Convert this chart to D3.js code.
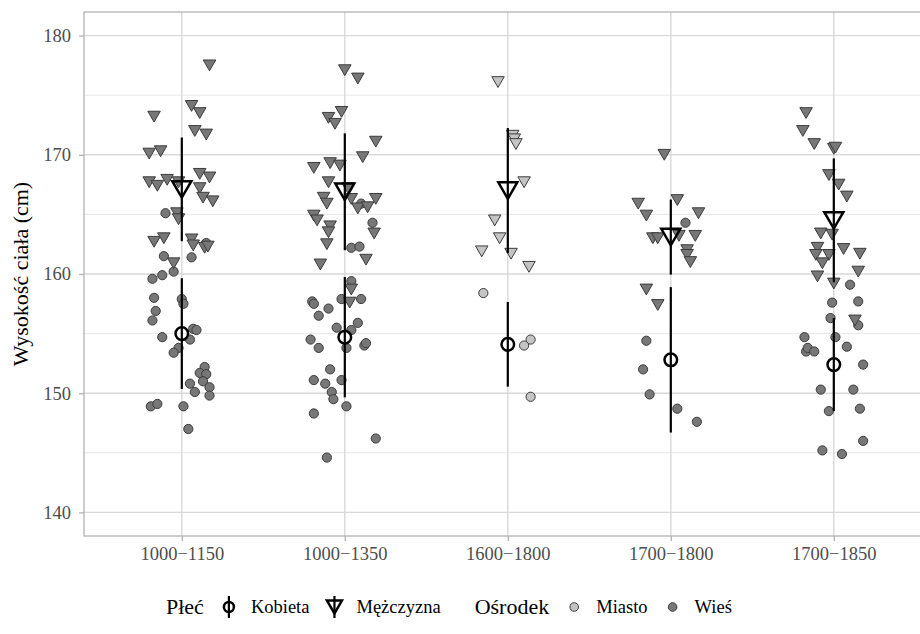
<!DOCTYPE html>
<html>
<head>
<meta charset="utf-8">
<script src="https://cdn.jsdelivr.net/npm/d3@7"></script>
<style>
  body { margin: 0; background: #fff; }
  svg { display: block; }
</style>
</head>
<body>
<svg id="chart" width="920" height="634" font-family="Liberation Serif, Times New Roman, serif"></svg>
<script>
"use strict";

const serif = "'Liberation Serif', 'Times New Roman', serif";

// okresy (categories on x)
const periods = ["1000\u22121150", "1000\u22121350", "1600\u22121800", "1700\u22121800", "1700\u22121850"];
const originByPeriod = ["Wieś", "Wieś", "Miasto", "Wieś", "Wieś"];
const yTicks = [140, 150, 160, 170, 180];

// mean +/- sd per period
const meanMen = [167.1, 166.9, 167.0, 163.1, 164.5];
const sdMen = [4.35, 4.9, 5.25, 3.15, 5.2];
const meanWomen = [155.0, 154.7, 154.1, 152.8, 152.4];
const sdWomen = [4.65, 5.05, 3.55, 6.1, 3.9];

// individual points: [period index, jitter (in category steps), height]
const men = [
  [0, 0.17, 177.5], [0, -0.17, 173.2], [0, 0.06, 174.1], [0, 0.11, 173.5], [0, 0.08, 172.0],
  [0, 0.15, 171.7], [0, -0.20, 170.1], [0, -0.13, 170.3], [0, -0.20, 167.7], [0, -0.15, 167.4],
  [0, -0.09, 167.9], [0, -0.02, 167.7], [0, 0.11, 168.4], [0, 0.17, 168.1], [0, 0.11, 167.2],
  [0, 0.13, 166.4], [0, 0.19, 166.1], [0, -0.03, 165.1], [0, -0.02, 164.6], [0, -0.17, 162.7],
  [0, -0.11, 163.0], [0, 0.06, 162.9], [0, 0.07, 162.4], [0, 0.14, 162.2], [0, 0.16, 162.3],
  [0, -0.05, 160.9],
  [1, 0.00, 177.1], [1, 0.08, 176.4], [1, -0.02, 173.6], [1, -0.10, 173.1], [1, -0.06, 172.6],
  [1, 0.19, 171.1], [1, 0.11, 169.8], [1, -0.19, 168.9], [1, -0.09, 169.3], [1, -0.03, 169.1],
  [1, -0.10, 167.7], [1, 0.02, 167.2], [1, -0.13, 166.4], [1, -0.11, 165.9], [1, 0.04, 166.3],
  [1, 0.08, 165.5], [1, 0.14, 165.6], [1, 0.19, 166.3], [1, -0.19, 164.9], [1, -0.17, 164.5],
  [1, -0.09, 164.0], [1, -0.10, 163.5], [1, 0.18, 163.4], [1, -0.11, 162.5], [1, -0.15, 160.8],
  [1, 0.13, 161.2], [1, 0.04, 158.7], [1, 0.03, 157.6],
  [2, -0.06, 176.1], [2, 0.03, 171.6], [2, 0.04, 171.3], [2, 0.05, 170.9], [2, 0.10, 167.7],
  [2, -0.08, 164.5], [2, -0.05, 163.0], [2, -0.16, 161.9], [2, 0.02, 161.7], [2, 0.13, 160.6],
  [3, -0.04, 170.0], [3, -0.20, 165.9], [3, -0.15, 164.9], [3, 0.04, 166.2], [3, 0.17, 165.1],
  [3, -0.11, 163.0], [3, -0.08, 163.0], [3, 0.05, 163.2], [3, 0.15, 163.2], [3, 0.10, 162.0],
  [3, 0.10, 161.6], [3, 0.12, 161.0], [3, -0.15, 158.7], [3, -0.08, 157.4],
  [4, -0.17, 173.5], [4, -0.19, 172.0], [4, -0.12, 170.9], [4, 0.00, 170.5], [4, 0.01, 170.6],
  [4, -0.03, 168.3], [4, 0.03, 167.5], [4, 0.08, 166.5], [4, -0.08, 163.4], [4, -0.01, 163.3],
  [4, -0.10, 162.2], [4, 0.06, 162.1], [4, 0.16, 161.7], [4, -0.11, 161.6], [4, -0.03, 161.6],
  [4, -0.07, 160.9], [4, 0.15, 160.2], [4, -0.10, 159.8], [4, 0.00, 159.2], [4, 0.13, 156.1]
];

const women = [
  [0, -0.10, 165.1], [0, 0.15, 162.6], [0, -0.11, 161.5], [0, 0.06, 161.4], [0, -0.05, 160.2],
  [0, -0.18, 159.6], [0, -0.12, 159.9], [0, -0.17, 158.0], [0, 0.00, 157.9], [0, 0.01, 157.5],
  [0, -0.16, 156.9], [0, -0.18, 156.1], [0, -0.12, 154.7], [0, 0.07, 155.4], [0, 0.09, 155.3],
  [0, 0.05, 154.5], [0, -0.02, 153.8], [0, -0.05, 153.4], [0, 0.14, 152.2], [0, 0.11, 151.7],
  [0, 0.15, 151.6], [0, 0.13, 151.0], [0, 0.05, 150.8], [0, 0.17, 150.5], [0, 0.08, 150.1],
  [0, 0.17, 149.8], [0, -0.19, 148.9], [0, -0.15, 149.1], [0, 0.01, 148.9], [0, 0.04, 147.0],
  [1, 0.10, 165.9], [1, 0.17, 164.3], [1, 0.04, 162.2], [1, 0.09, 162.3], [1, 0.04, 159.4],
  [1, -0.20, 157.7], [1, -0.19, 157.5], [1, -0.10, 157.1], [1, -0.02, 157.9], [1, 0.10, 157.9],
  [1, -0.16, 156.5], [1, 0.08, 155.9], [1, -0.05, 155.5], [1, 0.04, 155.3], [1, -0.21, 154.5],
  [1, -0.16, 153.8], [1, 0.01, 153.8], [1, 0.12, 154.0], [1, 0.13, 154.2], [1, -0.09, 152.0],
  [1, -0.19, 151.1], [1, -0.12, 150.8], [1, -0.02, 151.1], [1, -0.08, 150.1], [1, -0.07, 149.5],
  [1, 0.01, 148.9], [1, -0.19, 148.3], [1, 0.19, 146.2], [1, -0.11, 144.6],
  [2, -0.15, 158.4], [2, 0.14, 154.5], [2, 0.10, 154.0], [2, 0.14, 149.7],
  [3, 0.09, 164.3], [3, -0.15, 154.4], [3, -0.17, 152.0], [3, -0.13, 149.9], [3, 0.04, 148.7],
  [3, 0.16, 147.6],
  [4, 0.10, 159.1], [4, -0.01, 157.6], [4, 0.15, 157.7], [4, -0.02, 156.3], [4, 0.15, 155.7],
  [4, -0.18, 154.7], [4, 0.01, 154.7], [4, -0.17, 153.5], [4, -0.16, 153.8], [4, -0.12, 153.5],
  [4, 0.08, 153.9], [4, 0.18, 152.4], [4, -0.08, 150.3], [4, 0.12, 150.3], [4, -0.03, 148.5],
  [4, 0.16, 148.7], [4, 0.18, 146.0], [4, -0.07, 145.2], [4, 0.05, 144.9]
];

const originFill = { "Miasto": "#c4c4c4", "Wieś": "#777777" };

const panel = { left: 84, top: 12, right: 931.6, bottom: 536 };
const svg = d3.select("#chart");

const x = d3.scalePoint().domain(periods).range([panel.left, panel.right]).padding(0.6);
const y = d3.scaleLinear().domain([138.02, 181.98]).range([panel.bottom, panel.top]);
const step = x.step();

function px(d) { return x(periods[d[0]]) + d[1] * step; }

// triangle pointing down, centred on its bounding box
function triDown(w) {
  let h = w * 0.866;
  return `M${-w / 2},${-h / 2}L${w / 2},${-h / 2}L0,${h / 2}Z`;
}

// grid
const grid = svg.append("g");
d3.range(145, 181, 10).forEach(v => {
  grid.append("line").attr("x1", panel.left).attr("x2", panel.right)
    .attr("y1", y(v)).attr("y2", y(v)).attr("stroke", "#dedede").attr("stroke-width", 0.7);
});
yTicks.forEach(v => {
  grid.append("line").attr("x1", panel.left).attr("x2", panel.right)
    .attr("y1", y(v)).attr("y2", y(v)).attr("stroke", "#d9d9d9").attr("stroke-width", 1.4);
});
periods.forEach(p => {
  grid.append("line").attr("x1", x(p)).attr("x2", x(p))
    .attr("y1", panel.top).attr("y2", panel.bottom).attr("stroke", "#d9d9d9").attr("stroke-width", 1.4);
});

// points
const pts = svg.append("g").attr("stroke", "#3c3c3c").attr("stroke-width", 1);
pts.selectAll("circle").data(women).join("circle")
  .attr("cx", px).attr("cy", d => y(d[2])).attr("r", 4.6)
  .attr("fill", d => originFill[originByPeriod[d[0]]]);
pts.selectAll("path").data(men).join("path")
  .attr("d", triDown(12.5))
  .attr("transform", d => `translate(${px(d)},${y(d[2])})`)
  .attr("fill", d => originFill[originByPeriod[d[0]]]);

// mean +/- sd
const stats = svg.append("g");
periods.forEach((p, i) => {
  stats.append("line").attr("x1", x(p)).attr("x2", x(p))
    .attr("y1", y(meanMen[i] + sdMen[i])).attr("y2", y(meanMen[i] - sdMen[i]))
    .attr("stroke", "#000").attr("stroke-width", 2.2);
  stats.append("line").attr("x1", x(p)).attr("x2", x(p))
    .attr("y1", y(meanWomen[i] + sdWomen[i])).attr("y2", y(meanWomen[i] - sdWomen[i]))
    .attr("stroke", "#000").attr("stroke-width", 2.2);
  stats.append("path").attr("d", triDown(19))
    .attr("transform", `translate(${x(p)},${y(meanMen[i])})`)
    .attr("fill", "none").attr("stroke", "#000").attr("stroke-width", 2.5);
  stats.append("circle").attr("cx", x(p)).attr("cy", y(meanWomen[i])).attr("r", 6.3)
    .attr("fill", "none").attr("stroke", "#000").attr("stroke-width", 2.5);
});

// panel border
svg.append("rect").attr("x", panel.left).attr("y", panel.top)
  .attr("width", panel.right - panel.left).attr("height", panel.bottom - panel.top)
  .attr("fill", "none").attr("stroke", "#b3b3b3").attr("stroke-width", 1.3);

// axes
const yAxis = svg.append("g").attr("transform", `translate(${panel.left},0)`)
  .call(d3.axisLeft(y).tickValues(yTicks).tickSize(5).tickPadding(8));
const xAxis = svg.append("g").attr("transform", `translate(0,${panel.bottom})`)
  .call(d3.axisBottom(x).tickSize(5).tickPadding(6));
[yAxis, xAxis].forEach(a => {
  a.attr("font-family", serif);
  a.select(".domain").remove();
  a.selectAll(".tick line").attr("stroke", "#b3b3b3").attr("stroke-width", 1.3);
  a.selectAll(".tick text").attr("fill", "#4d4d4d")
    .style("font-family", serif).style("font-size", "18.5px");
});

svg.append("text")
  .attr("transform", `translate(28,${(panel.top + panel.bottom) / 2}) rotate(-90)`)
  .attr("text-anchor", "middle").style("font-family", serif).style("font-size", "22px")
  .attr("fill", "#000")
  .text("Wysokość ciała (cm)");

// legend
const legY = 607;
const leg = svg.append("g");
let cx = 0;
function title(t) {
  let el = leg.append("text").attr("x", cx).attr("y", legY + 7)
    .style("font-family", serif).style("font-size", "22px").text(t);
  cx += el.node().getComputedTextLength();
}
function label(t) {
  let el = leg.append("text").attr("x", cx).attr("y", legY + 6)
    .style("font-family", serif).style("font-size", "18.5px").text(t);
  cx += el.node().getComputedTextLength();
}
function rangeKey(shape) {
  leg.append("line").attr("x1", cx).attr("x2", cx).attr("y1", legY - 11).attr("y2", legY + 11)
    .attr("stroke", "#000").attr("stroke-width", 2.2);
  if (shape === "circle") {
    leg.append("circle").attr("cx", cx).attr("cy", legY).attr("r", 5)
      .attr("fill", "none").attr("stroke", "#000").attr("stroke-width", 2.5);
  } else {
    leg.append("path").attr("d", triDown(15)).attr("transform", `translate(${cx},${legY})`)
      .attr("fill", "none").attr("stroke", "#000").attr("stroke-width", 2.5);
  }
}
function dotKey(origin) {
  leg.append("circle").attr("cx", cx).attr("cy", legY).attr("r", 4.3)
    .attr("fill", originFill[origin]).attr("stroke", "#3c3c3c");
}
title("Płeć");
cx += 25; rangeKey("circle"); cx += 22;
label("Kobieta");
cx += 25; rangeKey("triangle"); cx += 22;
label("Mężczyzna");
cx += 34;
title("Ośrodek");
cx += 25; dotKey("Miasto"); cx += 22;
label("Miasto");
cx += 25; dotKey("Wieś"); cx += 22;
label("Wieś");
leg.attr("transform", "translate(166,0)");
</script>
</body>
</html>
